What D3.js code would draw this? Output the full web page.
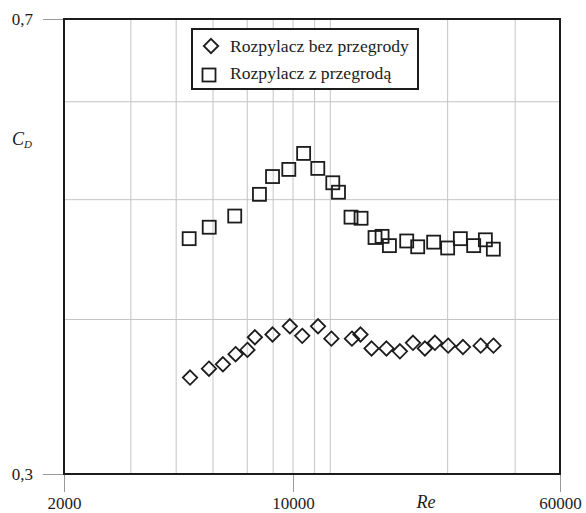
<!doctype html>
<html>
<head>
<meta charset="utf-8">
<title>CD vs Re</title>
<script src="https://cdn.jsdelivr.net/npm/d3@7"></script>
<style>
  body { margin: 0; background: #fff; }
  svg text { font-family: "Liberation Serif", "Times New Roman", Times, "DejaVu Serif", serif !important; }
</style>
</head>
<body>
<script>
// Re values and drag coefficient
var reBez = [4850, 5540, 6110, 6680, 7260, 7650, 8660, 9780, 10640, 11830, 12940, 14850,
             15730, 16940, 18720, 20490, 22370, 24230, 25920, 28330, 31290, 35230, 38390];
var cdBez = [0.359, 0.365, 0.368, 0.375, 0.378, 0.387, 0.389, 0.395, 0.388, 0.395, 0.386, 0.386,
             0.389, 0.379, 0.379, 0.377, 0.383, 0.379, 0.383, 0.381, 0.380, 0.381, 0.381];

var reZ = [4820, 5550, 6640, 7900, 8660, 9710, 10740, 11810, 13060, 13570, 14760, 15790,
           17340, 18180, 19100, 21450, 23090, 25700, 28230, 30740, 33620, 36360, 38360];
var cdZ = [0.465, 0.475, 0.485, 0.505, 0.522, 0.529, 0.545, 0.530, 0.516, 0.507, 0.484, 0.483,
           0.466, 0.467, 0.459, 0.463, 0.458, 0.462, 0.457, 0.465, 0.459, 0.464, 0.456];

var xTicks = [2000, 10000, 60000];
var yTicks = [0.3, 0.7];
var xGrid = [3200, 4400, 5700, 7250, 8700, 10000, 11560, 12840, 28230, 44410];
var yGrid = [0.4, 0.5, 0.6];
var seriesNames = ["Rozpylacz bez przegrody", "Rozpylacz z przegrodą"];

var width = 586, height = 513;
var pLeft = 64, pRight = 560, pTop = 19, pBottom = 474;
var ink = "#1c1c1c";

var svg = d3.select("body").append("svg")
  .attr("width", width).attr("height", height);

var x = d3.scaleLog().domain([2000, 10000, 60000]).range([pLeft, 293, pRight]);
var y = d3.scaleLog().domain([0.3, 0.7]).range([pBottom, pTop]);

// grid
svg.append("g").selectAll("line").data(xGrid).enter().append("line")
  .attr("x1", function(d) { return x(d); }).attr("x2", function(d) { return x(d); })
  .attr("y1", pTop).attr("y2", pBottom)
  .attr("stroke", "#c4c4c4").attr("stroke-width", 1);

svg.append("g").selectAll("line").data(yGrid).enter().append("line")
  .attr("y1", function(d) { return y(d); }).attr("y2", function(d) { return y(d); })
  .attr("x1", pLeft).attr("x2", pRight)
  .attr("stroke", "#c4c4c4").attr("stroke-width", 1);

// axes
var fmt = function(d) { return String(d).replace(".", ","); };

var xAxis = svg.append("g").attr("transform", "translate(0," + pBottom + ")")
  .call(d3.axisBottom(x).tickValues(xTicks).tickSize(18).tickPadding(5).tickFormat(d3.format("d")));
var yAxis = svg.append("g").attr("transform", "translate(" + pLeft + ",0)")
  .call(d3.axisLeft(y).tickValues(yTicks).tickSize(21).tickPadding(10).tickFormat(fmt));

[xAxis, yAxis].forEach(function(a) {
  a.attr("font-size", 17);
  a.select(".domain").remove();
  a.selectAll(".tick line").attr("stroke", "#9a9a9a");
  a.selectAll(".tick text").attr("fill", ink);
});

// frame
svg.append("rect")
  .attr("x", pLeft).attr("y", pTop)
  .attr("width", pRight - pLeft).attr("height", pBottom - pTop)
  .attr("fill", "none").attr("stroke", ink).attr("stroke-width", 2);

// axis titles
svg.append("text").attr("x", 426).attr("y", 508)
  .attr("text-anchor", "middle").attr("font-style", "italic").attr("font-size", 18)
  .attr("fill", ink).text("Re");

var cd = svg.append("text").attr("x", 12).attr("y", 145)
  .attr("font-style", "italic").attr("font-size", 18).attr("fill", ink);
cd.append("tspan").text("C");
cd.append("tspan").attr("dy", 3).attr("font-size", 11).text("D");

// markers
var diamond = function(cx, cy, r) {
  return "M" + cx + "," + (cy - r) + "L" + (cx + r) + "," + cy + "L" + cx + "," + (cy + r) + "L" + (cx - r) + "," + cy + "Z";
};

var sq = 13;
svg.append("g").selectAll("rect").data(reZ).enter().append("rect")
  .attr("x", function(d) { return x(d) - sq / 2; })
  .attr("y", function(d, i) { return y(cdZ[i]) - sq / 2; })
  .attr("width", sq).attr("height", sq)
  .attr("fill", "none").attr("stroke", ink).attr("stroke-width", 1.8);

svg.append("g").selectAll("path").data(reBez).enter().append("path")
  .attr("d", function(d, i) { return diamond(x(d), y(cdBez[i]), 7.2); })
  .attr("fill", "none").attr("stroke", ink).attr("stroke-width", 1.8);

// legend
var lg = svg.append("g");
lg.append("rect").attr("x", 192).attr("y", 29).attr("width", 226).attr("height", 60)
  .attr("fill", "#fff").attr("stroke", ink).attr("stroke-width", 2);
lg.append("path").attr("d", diamond(211, 46, 7.2))
  .attr("fill", "none").attr("stroke", ink).attr("stroke-width", 1.8);
lg.append("rect").attr("x", 209 - sq / 2).attr("y", 75 - sq / 2).attr("width", sq).attr("height", sq)
  .attr("fill", "none").attr("stroke", ink).attr("stroke-width", 1.8);
lg.selectAll("text").data(seriesNames).enter().append("text")
  .attr("x", 230).attr("y", function(d, i) { return 52 + i * 27; })
  .attr("font-size", 17.6).attr("fill", ink).text(function(d) { return d; });
</script>
</body>
</html>
